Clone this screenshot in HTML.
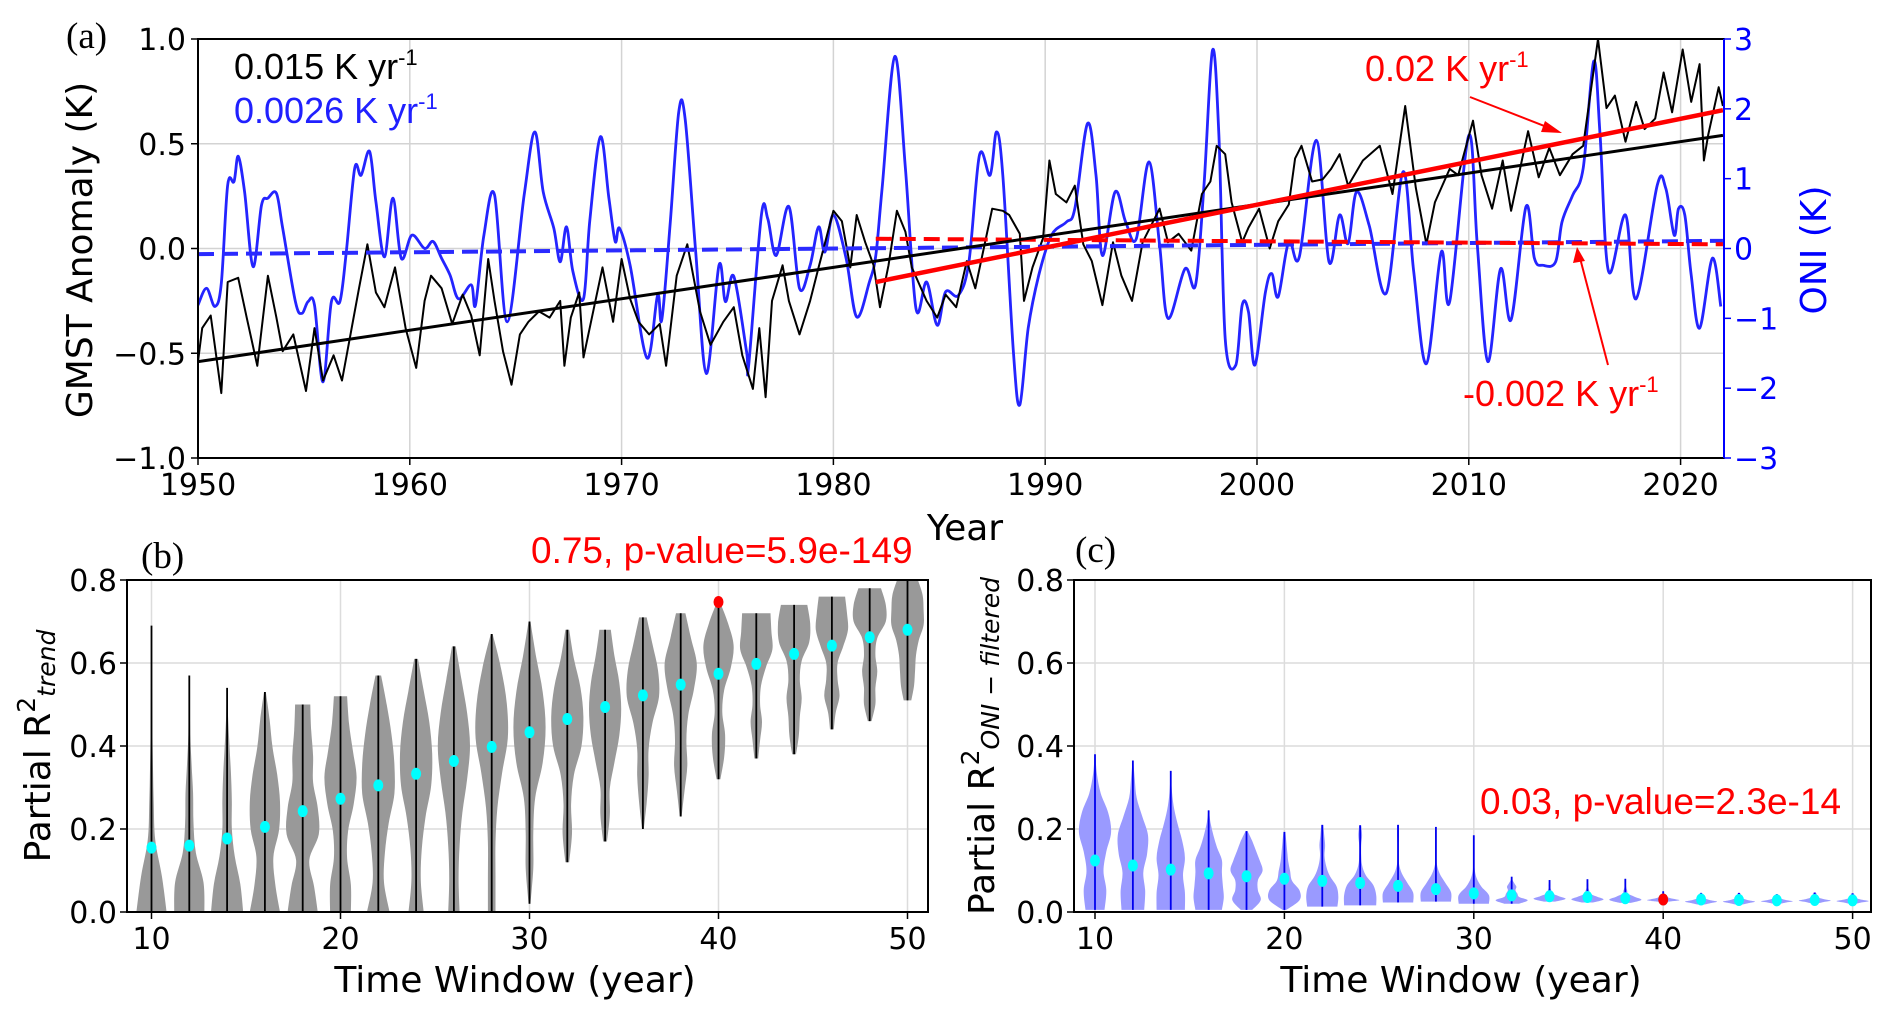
<!DOCTYPE html>
<html><head><meta charset="utf-8">
<style>
html,body{margin:0;padding:0;background:#fff;}
svg{display:block;}
text{font-family:"DejaVu Sans","Liberation Sans",sans-serif;}
.serif{font-family:"Liberation Serif",serif;}
.arial{font-family:"Liberation Sans",sans-serif;}
</style></head>
<body>
<svg id="fig" width="1892" height="1016" viewBox="0 0 1892 1016" xmlns="http://www.w3.org/2000/svg">
<defs>
<clipPath id="clipA"><rect x="198" y="39" width="1526" height="419"/></clipPath>
<clipPath id="clipB"><rect x="127" y="580" width="801" height="332"/></clipPath>
<clipPath id="clipC"><rect x="1074" y="580" width="797" height="332"/></clipPath>
</defs>
<g id="gA"></g>
<g id="gB"></g>
<g id="gC"></g>
</svg>
<script>
// ---------- Panel (a) data ----------
const oniYears=[1950.0,1950.4,1950.8,1951.1,1951.4,1951.7,1951.9,1952.2,1952.6,1953.0,1953.3,1953.7,1954.0,1954.6,1954.9,1955.2,1955.5,1955.9,1956.3,1956.7,1957.0,1957.4,1957.7,1958.1,1958.4,1958.8,1959.2,1959.6,1960.1,1960.7,1961.1,1961.5,1961.9,1962.3,1962.9,1963.1,1963.5,1964.0,1964.6,1965.4,1965.9,1966.3,1966.8,1967.1,1967.4,1967.7,1968.2,1968.5,1969.0,1969.4,1969.7,1969.9,1970.4,1971.2,1971.7,1971.9,1972.3,1972.7,1973.0,1973.5,1974.0,1974.6,1974.9,1975.3,1975.9,1976.0,1976.6,1976.9,1977.3,1977.9,1978.4,1978.9,1979.3,1979.6,1980.0,1980.6,1981.1,1981.7,1982.0,1982.3,1982.9,1983.4,1983.9,1984.4,1984.9,1985.3,1985.9,1986.4,1986.9,1987.4,1987.7,1988.0,1988.5,1988.8,1989.2,1989.7,1990.3,1991.0,1991.4,1992.0,1992.4,1992.7,1993.3,1993.8,1994.3,1994.9,1995.4,1995.8,1996.6,1997.1,1997.5,1997.9,1998.2,1998.5,1999.0,1999.3,1999.6,1999.9,2000.4,2000.7,2001.0,2001.5,2002.0,2002.8,2003.4,2003.9,2004.3,2004.7,2005.3,2006.1,2006.9,2007.4,2008.0,2008.7,2009.1,2010.0,2010.4,2010.9,2011.5,2012.0,2012.7,2013.1,2013.5,2014.1,2014.4,2014.9,2015.4,2015.9,2016.2,2016.6,2017.4,2017.9,2018.9,2019.3,2019.7,2019.9,2020.2,2020.5,2020.9,2021.5,2021.9];
const oniValues=[-0.81,-0.57,-0.83,-0.5,0.91,0.96,1.32,0.81,-0.26,0.62,0.72,0.79,0.29,-0.76,-0.93,-0.76,-0.81,-1.91,-0.76,-0.76,-0.05,1.15,1.05,1.39,0.67,-0.12,0.72,-0.14,0.19,0,0.1,-0.14,-0.38,-0.72,-0.52,-0.81,0.19,0.77,-1.05,0.77,1.67,0.81,0.29,-0.19,0.31,-0.33,-0.72,0.4,1.6,0.72,0.1,0.29,-0.24,-1.57,-0.67,-1.02,0.38,1.96,1.86,-0.05,-1.79,-0.24,-0.76,-0.4,-1.48,-1.67,0.48,0.43,-0.1,0.6,-0.57,-0.24,0.31,-0.05,0.48,-0.14,-0.98,-0.48,-0.1,0.86,2.75,1.15,-0.86,-0.48,-1.1,-0.62,-0.67,-0.19,1.34,1.05,1.67,1.05,-1.48,-2.24,-1.14,-0.38,0.19,0.38,0.57,1.79,1.05,-0.1,0.81,0.38,0.14,1.24,0.05,-1.0,-0.29,-0.52,0.91,2.84,1.62,-1.29,-1.67,-0.81,-0.91,-1.67,-0.62,-0.36,-0.69,0.1,-0.12,1.55,-0.19,0.48,0.07,0.81,0.33,-0.64,1.1,-0.33,-1.65,-0.05,-0.76,1.62,0.05,-1.62,-0.29,-1.02,0.6,-0.14,-0.24,-0.19,0.38,0.76,1.15,2.68,1.62,-0.33,0.48,-0.72,0.91,0.86,0.19,0.57,0.48,-0.38,-1.14,-0.14,-0.83];
const gmstYears=[1950.0,1950.2,1950.6,1951.1,1951.4,1951.9,1952.3,1952.8,1953.3,1953.7,1954.0,1954.5,1955.1,1955.5,1955.9,1956.4,1956.8,1957.2,1957.6,1958.0,1958.4,1958.8,1959.3,1959.8,1960.3,1960.7,1961.0,1961.5,1962.0,1962.5,1962.9,1963.3,1963.7,1964.0,1964.4,1964.8,1965.2,1965.6,1966.1,1966.6,1967.1,1967.3,1967.6,1968.0,1968.2,1968.6,1969.1,1969.6,1970.0,1970.4,1970.8,1971.3,1971.8,1972.1,1972.6,1973.1,1973.7,1974.2,1974.8,1975.3,1975.7,1976.2,1976.5,1976.8,1977.1,1977.6,1977.9,1978.4,1978.9,1979.3,1980.0,1980.4,1980.8,1981.1,1981.5,1981.9,1982.2,1982.6,1983.0,1983.4,1983.7,1984.4,1984.9,1985.3,1985.8,1986.3,1986.7,1987.5,1988.0,1988.3,1988.8,1989.0,1989.4,1989.9,1990.2,1990.5,1991.0,1991.4,1991.8,1992.2,1992.7,1993.2,1993.6,1994.1,1994.6,1995.1,1995.4,1995.8,1996.3,1996.9,1997.4,1997.8,1998.1,1998.5,1998.8,1999.3,1999.6,2000.1,2000.6,2001.0,2001.5,2001.8,2002.1,2002.6,2003.1,2003.5,2003.9,2004.3,2005.0,2005.8,2006.4,2007.0,2007.5,2008.0,2008.4,2009.1,2009.5,2010.2,2010.6,2011.1,2011.6,2012.0,2012.8,2013.3,2013.8,2014.3,2014.9,2015.4,2015.8,2016.1,2016.5,2016.9,2017.4,2017.9,2018.3,2018.8,2019.2,2019.6,2020.1,2020.5,2020.9,2021.1,2021.3,2021.8,2022.0];
const gmstValues=[-0.54,-0.38,-0.32,-0.69,-0.16,-0.14,-0.33,-0.56,-0.13,-0.33,-0.49,-0.41,-0.68,-0.38,-0.63,-0.51,-0.63,-0.41,-0.19,0.02,-0.21,-0.28,-0.09,-0.38,-0.57,-0.25,-0.13,-0.19,-0.36,-0.22,-0.32,-0.51,-0.05,-0.25,-0.49,-0.65,-0.41,-0.35,-0.3,-0.33,-0.25,-0.56,-0.33,-0.21,-0.52,-0.33,-0.09,-0.35,-0.05,-0.24,-0.35,-0.41,-0.36,-0.56,-0.13,0.02,-0.3,-0.46,-0.35,-0.28,-0.51,-0.67,-0.38,-0.71,-0.25,-0.08,-0.25,-0.41,-0.25,-0.09,0.18,0.13,-0.09,0.16,0.03,-0.08,-0.28,-0.08,0.18,0.08,-0.09,-0.25,-0.33,-0.22,-0.28,-0.06,-0.19,0.19,0.18,0.16,0.07,-0.25,-0.09,0.05,0.42,0.26,0.22,0.3,0.02,-0.06,-0.27,0.03,-0.13,-0.25,0.03,0.13,0.19,0.03,0.07,-0.01,0.26,0.32,0.49,0.45,0.22,0.03,0.1,0.19,0.0,0.13,0.21,0.43,0.49,0.32,0.33,0.38,0.45,0.3,0.42,0.49,0.26,0.68,0.29,0.02,0.22,0.38,0.35,0.61,0.35,0.19,0.42,0.18,0.56,0.34,0.48,0.35,0.45,0.49,0.78,1.0,0.67,0.73,0.51,0.7,0.57,0.62,0.84,0.65,0.95,0.7,0.88,0.42,0.54,0.77,0.68];
// trend lines: [startYear, endYear, startValue, endValue]
const gmstTrend=[1950,2022,-0.54,0.54];
const gmstTrendRecent=[1982,2022,-0.16,0.66];
const oniTrend=[1950,2022,-0.08,0.11];
const oniTrendRecent=[1982,2022,0.14,0.06];
const yearTicks=[1950,1960,1970,1980,1990,2000,2010,2020];
const gmstTicks=[1.0,0.5,0.0,-0.5,-1.0];
const gmstTickLabels=["1.0","0.5","0.0","\u22120.5","\u22121.0"];
const oniTicks=[3,2,1,0,-1,-2,-3];
const oniTickLabels=["3","2","1","0","\u22121","\u22122","\u22123"];

// ---------- Panels (b),(c) data ----------
const windows=[10,12,14,16,18,20,22,24,26,28,30,32,34,36,38,40,42,44,46,48,50];
const trendMin=[0,0,0,0,0,0,0,0,0,0,0.02,0.12,0.17,0.20,0.23,0.32,0.37,0.38,0.44,0.46,0.51];
const trendMax=[0.69,0.57,0.54,0.53,0.50,0.52,0.57,0.61,0.64,0.67,0.70,0.68,0.68,0.71,0.72,0.75,0.72,0.74,0.76,0.78,0.80];
const trendMedian=[0.155,0.16,0.177,0.205,0.243,0.273,0.305,0.333,0.364,0.398,0.433,0.465,0.494,0.522,0.548,0.574,0.598,0.622,0.642,0.662,0.68];
const trendShape=[
[0.8,0.55,0.2,0.12,0.08,0.05,0.03,0.02,0.01],
[0.8,0.75,0.35,0.22,0.2,0.12,0.05,0.03,0.01],
[0.85,0.7,0.4,0.25,0.25,0.2,0.12,0.05,0.01],
[0.8,0.55,0.45,0.75,0.8,0.65,0.4,0.25,0.05],
[0.8,0.6,0.35,0.85,0.8,0.55,0.55,0.45,0.4],
[0.55,0.55,0.35,0.4,0.7,0.85,0.65,0.45,0.35],
[0.6,0.3,0.35,0.55,0.85,0.85,0.7,0.45,0.15],
[0.4,0.25,0.3,0.5,0.8,0.85,0.7,0.4,0.1],
[0.3,0.25,0.3,0.45,0.7,0.85,0.7,0.4,0.1],
[0.2,0.2,0.2,0.3,0.55,0.85,0.8,0.5,0.05],
[0.05,0.2,0.2,0.3,0.7,0.85,0.7,0.35,0.05],
[0.1,0.25,0.2,0.35,0.75,0.85,0.7,0.35,0.1],
[0.1,0.25,0.25,0.5,0.75,0.85,0.75,0.5,0.3],
[0.05,0.2,0.3,0.3,0.5,0.85,0.8,0.5,0.2],
[0.05,0.2,0.35,0.3,0.4,0.7,0.85,0.55,0.25],
[0.1,0.3,0.35,0.2,0.3,0.65,0.8,0.5,0.05],
[0.1,0.2,0.3,0.2,0.25,0.5,0.85,0.8,0.75],
[0.1,0.25,0.3,0.4,0.3,0.4,0.8,0.85,0.7],
[0.1,0.2,0.4,0.3,0.3,0.6,0.85,0.8,0.7],
[0.1,0.3,0.3,0.4,0.3,0.4,0.85,0.85,0.6],
[0.2,0.35,0.4,0.45,0.6,0.85,0.85,0.8,0.55]];
const trendHighlight=[40,0.747];
const oniMin=[0.005,0.005,0.005,0.005,0.005,0.005,0.013,0.016,0.023,0.025,0.02,0.02,0.025,0.023,0.022,0.025,0.018,0.018,0.02,0.021,0.02];
const oniMax=[0.38,0.365,0.34,0.245,0.195,0.193,0.21,0.209,0.21,0.205,0.185,0.085,0.077,0.079,0.08,0.05,0.046,0.046,0.043,0.047,0.045];
const oniMedian=[0.124,0.112,0.102,0.093,0.086,0.08,0.075,0.07,0.063,0.055,0.045,0.04,0.038,0.036,0.033,0.03,0.03,0.029,0.028,0.029,0.028];
const oniShape=[
[0.5,0.6,0.45,0.6,0.85,0.7,0.3,0.1,0.02],
[0.6,0.65,0.55,0.75,0.8,0.5,0.2,0.1,0.02],
[0.75,0.75,0.65,0.75,0.6,0.35,0.15,0.05,0.02],
[0.7,0.8,0.75,0.7,0.7,0.45,0.25,0.1,0.02],
[0.3,0.75,0.6,0.6,0.85,0.7,0.5,0.3,0.05],
[0.1,0.8,0.8,0.4,0.3,0.2,0.15,0.1,0.05],
[0.8,0.85,0.75,0.4,0.2,0.12,0.15,0.1,0.05],
[0.85,0.85,0.7,0.3,0.1,0.05,0.05,0.1,0.05],
[0.8,0.8,0.5,0.2,0.05,0.03,0.03,0.05,0.05],
[0.8,0.8,0.5,0.2,0.05,0.03,0.03,0.02,0.02],
[0.8,0.8,0.4,0.15,0.05,0.03,0.02,0.02,0.02],
[0.4,0.85,0.4,0.3,0.2,0.25,0.15,0.05,0.02],
[0.3,0.85,0.5,0.15,0.1,0.05,0.05,0.03,0.02],
[0.3,0.85,0.5,0.15,0.1,0.05,0.05,0.03,0.02],
[0.3,0.85,0.5,0.15,0.1,0.05,0.03,0.03,0.02],
[0.3,0.85,0.6,0.3,0.15,0.1,0.05,0.05,0.03],
[0.2,0.5,0.85,0.5,0.25,0.15,0.1,0.1,0.05],
[0.2,0.5,0.85,0.5,0.25,0.15,0.1,0.1,0.05],
[0.2,0.5,0.85,0.5,0.25,0.15,0.1,0.1,0.05],
[0.2,0.5,0.85,0.5,0.25,0.15,0.1,0.1,0.05],
[0.2,0.5,0.85,0.5,0.25,0.15,0.1,0.1,0.05]];
const oniHighlight=[40,0.03];
const windowTicks=[10,20,30,40,50];
const r2Ticks=[0.0,0.2,0.4,0.6,0.8];
const r2TickLabels=["0.0","0.2","0.4","0.6","0.8"];

// ---------- helpers ----------
const NS="http://www.w3.org/2000/svg";
const TICK_FS=30;
function mk(parent,tag,attrs,txt){const e=document.createElementNS(NS,tag);for(const k in attrs)e.setAttribute(k,attrs[k]);if(txt!==undefined)e.textContent=txt;parent.appendChild(e);return e;}
const A={x0:198,x1:1724,y0:39,y1:458,xmin:1950,xmax:2022.05};
const ax=v=>A.x0+(v-A.xmin)*(A.x1-A.x0)/(A.xmax-A.xmin);
const ayL=v=>248.5-v*(A.y1-A.y0)/2;
const ayR=v=>248.5-v*(A.y1-A.y0)/6;
const B={x0:127,x1:928,y0:580,y1:912};
const C={x0:1074,x1:1871,y0:580,y1:912};
const bx=w=>151.5+(w-10)*18.9;
const cx=w=>1095+(w-10)*18.94;
const ry=v=>912-v*415;
function smoothPath(pts){let d="M"+pts[0][0].toFixed(1)+","+pts[0][1].toFixed(1);
 for(let i=0;i<pts.length-1;i++){const p0=pts[Math.max(0,i-1)],p1=pts[i],p2=pts[i+1],p3=pts[Math.min(pts.length-1,i+2)];
  const c1=[p1[0]+(p2[0]-p0[0])/6,p1[1]+(p2[1]-p0[1])/6],c2=[p2[0]-(p3[0]-p1[0])/6,p2[1]-(p3[1]-p1[1])/6];
  d+=" C"+c1[0].toFixed(1)+","+c1[1].toFixed(1)+" "+c2[0].toFixed(1)+","+c2[1].toFixed(1)+" "+p2[0].toFixed(1)+","+p2[1].toFixed(1);}
 return d;}

// ---------- Panel (a) ----------
const gA=document.getElementById('gA');
yearTicks.forEach(t=>{const l=mk(gA,'line',{x1:ax(t),x2:ax(t),y1:A.y0,y2:A.y1,stroke:'#d3d3d3','stroke-width':1.5});

});
gmstTicks.forEach(t=>{const l=mk(gA,'line',{x1:A.x0,x2:A.x1,y1:ayL(t),y2:ayL(t),stroke:'#d3d3d3','stroke-width':1.5});

});
const gAc=mk(gA,'g',{'clip-path':'url(#clipA)'});


const oniPts=oniYears.map((y,i)=>[ax(y),ayR(oniValues[i])]);
const oniLine=mk(gAc,'path',{d:smoothPath(oniPts),fill:'none',stroke:'#2424ff','stroke-width':2.8,'stroke-linejoin':'round'});


const gm=mk(gAc,'polyline',{points:gmstYears.map((y,i)=>ax(y).toFixed(1)+","+ayL(gmstValues[i]).toFixed(1)).join(" "),fill:'none',stroke:'#000','stroke-width':2,'stroke-linejoin':'round'});


function trend(t,yf,col,w,dash,name){const l=mk(gAc,'line',{x1:ax(t[0]),x2:ax(t[1]),y1:yf(t[2]),y2:yf(t[3]),stroke:col,'stroke-width':w});if(dash)l.setAttribute('stroke-dasharray',dash);

}
trend(oniTrend,ayR,'#2a2aff',4,'16,8','oni-trend-line');
trend(oniTrendRecent,ayR,'#ff0000',4,'16,8','oni-recent-trend-line');
trend(gmstTrend,ayL,'#000',3,null,'gmst-trend-line');
trend(gmstTrendRecent,ayL,'#ff0000',4.5,null,'gmst-recent-trend-line');
const fA=mk(gA,'rect',{x:A.x0,y:A.y0,width:A.x1-A.x0,height:A.y1-A.y0,fill:'none',stroke:'#000','stroke-width':2});


mk(gA,'line',{x1:A.x1,x2:A.x1,y1:A.y0,y2:A.y1,stroke:'#0000ff','stroke-width':2});
yearTicks.forEach(t=>{mk(gA,'line',{x1:ax(t),x2:ax(t),y1:A.y1,y2:A.y1+7,stroke:'#000','stroke-width':1.5});
const tx=mk(gA,'text',{x:ax(t),y:A.y1+37,'font-size':TICK_FS,'text-anchor':'middle'},String(t));

});
gmstTicks.forEach((t,i)=>{mk(gA,'line',{x1:A.x0-7,x2:A.x0,y1:ayL(t),y2:ayL(t),stroke:'#000','stroke-width':1.5});
const tx=mk(gA,'text',{x:A.x0-12,y:ayL(t)+11,'font-size':TICK_FS,'text-anchor':'end'},gmstTickLabels[i]);

});
oniTicks.forEach((t,i)=>{mk(gA,'line',{x1:A.x1,x2:A.x1+7,y1:ayR(t),y2:ayR(t),stroke:'#0000ff','stroke-width':1.5});
const tx=mk(gA,'text',{x:A.x1+10,y:ayR(t)+11,'font-size':TICK_FS,fill:'#0000ff'},oniTickLabels[i]);

});
</script>
<script>
(function(){const g=document.getElementById('gA');
g.insertAdjacentHTML('beforeend',`
<text class="serif" x="66" y="48" font-size="37">(a)</text>
<text x="0" y="0" font-size="36" text-anchor="middle" transform="translate(92,250) rotate(-90)">GMST Anomaly (K)</text>
<text x="0" y="0" font-size="36" fill="#0000ff" text-anchor="middle" transform="translate(1826,250) rotate(-90)">ONI (K)</text>
<text x="965" y="540" font-size="36" text-anchor="middle">Year</text>
<text class="arial" x="234" y="79" font-size="36" fill="#000">0.015 K yr<tspan font-size="22" dy="-14">-1</tspan></text>
<text class="arial" x="234" y="123" font-size="36" fill="#2020ff">0.0026 K yr<tspan font-size="22" dy="-14">-1</tspan></text>
<text class="arial" x="1365" y="81" font-size="36" fill="#ff0000">0.02 K yr<tspan font-size="22" dy="-14">-1</tspan></text>
<text class="arial" x="1463" y="406" font-size="36" fill="#ff0000">-0.002 K yr<tspan font-size="22" dy="-14">-1</tspan></text>
<g><line x1="1470" y1="97" x2="1552" y2="129" stroke="#ff0000" stroke-width="2"/><polygon points="1562,133 1545,121 1541,132" fill="#ff0000"/></g>
<g><line x1="1608" y1="365" x2="1580" y2="258" stroke="#ff0000" stroke-width="2"/><polygon points="1577,247 1573,263 1585,261" fill="#ff0000"/></g>
`);})();
</script>
<script>
function violinPanel(gid,P,xf,mins,maxs,meds,shapes,fill,lineCol,hl,clip,pname){
 const g=document.getElementById(gid);
 windowTicks.forEach(t=>{const l=mk(g,'line',{x1:xf(t),x2:xf(t),y1:P.y0,y2:P.y1,stroke:'#dcdcdc','stroke-width':1.5});
 
 });
 r2Ticks.forEach(t=>{const l=mk(g,'line',{x1:P.x0,x2:P.x1,y1:ry(t),y2:ry(t),stroke:'#dcdcdc','stroke-width':1.5});
 
 });
 const gc=mk(g,'g',{'clip-path':'url(#'+clip+')'});
 
 
 windows.forEach((w,i)=>{const x=xf(w),n=shapes[i].length;const right=[],left=[];
  for(let k=0;k<n;k++){const v=mins[i]+(maxs[i]-mins[i])*k/(n-1);const hw=shapes[i][k]*18.9;right.push([x+hw,ry(v)]);left.push([x-hw,ry(v)]);}
  left.reverse();
  const d=smoothPath(right)+" L"+left[0][0].toFixed(1)+","+left[0][1].toFixed(1)+smoothPath(left).replace(/^M[^C]*/," ")+" Z";
  const p=mk(gc,'path',{d:d,fill:fill,stroke:'none'});
  
  
  const l=mk(gc,'line',{x1:x,x2:x,y1:ry(mins[i]),y2:ry(maxs[i]),stroke:lineCol,'stroke-width':1.8});
  
  
 });
 windows.forEach((w,i)=>{const c=mk(gc,'ellipse',{cx:xf(w),cy:ry(meds[i]),rx:5,ry:6,fill:'#00ffff'});
  
  });
 const h=mk(g,'ellipse',{cx:xf(hl[0]),cy:ry(hl[1]),rx:5,ry:6,fill:'#ff0000'});
 
 
 const f=mk(g,'rect',{x:P.x0,y:P.y0,width:P.x1-P.x0,height:P.y1-P.y0,fill:'none',stroke:'#000','stroke-width':2});
 
 
 windowTicks.forEach(t=>{mk(g,'line',{x1:xf(t),x2:xf(t),y1:P.y1,y2:P.y1+7,stroke:'#000','stroke-width':1.5});
  const tx=mk(g,'text',{x:xf(t),y:P.y1+37,'font-size':TICK_FS,'text-anchor':'middle'},String(t));
  
  });
 r2Ticks.forEach((t,i)=>{mk(g,'line',{x1:P.x0-7,x2:P.x0,y1:ry(t),y2:ry(t),stroke:'#000','stroke-width':1.5});
  const tx=mk(g,'text',{x:P.x0-10,y:ry(t)+11,'font-size':TICK_FS,'text-anchor':'end'},r2TickLabels[i]);
  
  });
}
violinPanel('gB',B,bx,trendMin,trendMax,trendMedian,trendShape,'#999999','#000000',trendHighlight,'clipB','panel-b');
violinPanel('gC',C,cx,oniMin,oniMax,oniMedian,oniShape,'#9a9aff','#0000ee',oniHighlight,'clipC','panel-c');
document.getElementById('gB').insertAdjacentHTML('beforeend',`
<text class="serif" x="141" y="568" font-size="37">(b)</text>
<text class="arial" x="531" y="563" font-size="37" fill="#ff0000">0.75, p-value=5.9e-149</text>
<text x="515" y="992" font-size="36" text-anchor="middle">Time Window (year)</text>
<text font-size="36" text-anchor="middle" transform="translate(50,746) rotate(-90)">Partial R<tspan font-size="25" dy="-15">2</tspan><tspan font-size="25" dy="20" font-style="italic">trend</tspan></text>`);
document.getElementById('gC').insertAdjacentHTML('beforeend',`
<text class="serif" x="1075" y="562" font-size="37">(c)</text>
<text class="arial" x="1480" y="814" font-size="37" fill="#ff0000">0.03, p-value=2.3e-14</text>
<text x="1461" y="992" font-size="36" text-anchor="middle">Time Window (year)</text>
<text font-size="36" text-anchor="middle" transform="translate(994,746) rotate(-90)">Partial R<tspan font-size="25" dy="-15">2</tspan><tspan font-size="25" dy="20" font-style="italic">ONI − filtered</tspan></text>`);
</script>
</body></html>
